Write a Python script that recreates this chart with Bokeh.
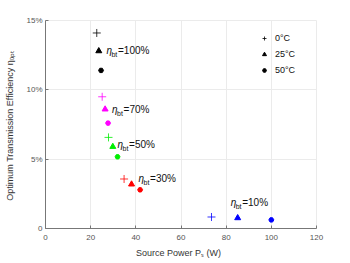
from bokeh.plotting import figure
from bokeh.models import ColumnDataSource, Legend, LegendItem, Range1d, FixedTicker
from bokeh.core.properties import value
from bokeh.embed import file_html
from bokeh.resources import INLINE

# ---- data ----
groups = ["100%", "70%", "50%", "30%", "10%"]
colors = ["#000000", "#ff00ff", "#00ee00", "#ff0000", "#0000ff"]
temps = ["0°C", "25°C", "50°C"]

power_0 = [22.7, 25.1, 27.9, 34.8, 73.5]
eff_0 = [14.1, 9.5, 6.57, 3.57, 0.83]
power_25 = [23.6, 26.4, 29.8, 38.1, 85.1]
eff_25 = [12.8, 8.6, 5.9, 3.19, 0.76]
power_50 = [24.6, 27.7, 31.9, 41.9, 100.0]
eff_50 = [11.4, 7.6, 5.17, 2.79, 0.62]

label_x = [27.0, 29.5, 31.9, 41.2, 82.0]
label_y = [12.85, 8.6, 6.07, 3.57, 1.86]

x_ticks = [0, 20, 40, 60, 80, 100, 120]
y_ticks = [0, 5, 10, 15]
y_tick_labels = ["0", "5%", "10%", "15%"]

FONT = "Liberation Sans"

p = figure(width=342, height=260, output_backend="svg", toolbar_location=None,
           x_range=Range1d(0, 120), y_range=Range1d(0, 15),
           min_border_left=45, min_border_right=26, min_border_top=20, min_border_bottom=27)

p.background_fill_color = "white"
p.border_fill_color = "white"
p.outline_line_color = "#ebebeb"

for ax in (p.xaxis[0], p.yaxis[0]):
    ax.axis_line_color = "#777777"
    ax.major_tick_line_color = "#777777"
    ax.major_tick_in = 3
    ax.major_tick_out = 0
    ax.minor_tick_line_color = None
    ax.major_label_text_font = FONT
    ax.major_label_text_font_size = "8px"
    ax.major_label_text_color = "#555555"
    ax.axis_label_text_font = FONT
    ax.axis_label_text_font_size = "9px"
    ax.axis_label_text_font_style = "normal"
    ax.axis_label_text_color = "#333333"

p.xaxis.ticker = FixedTicker(ticks=x_ticks)
p.yaxis.ticker = FixedTicker(ticks=y_ticks)
p.yaxis.major_label_overrides = {t: l for t, l in zip(y_ticks, y_tick_labels)}
p.xaxis.major_label_standoff = 6
p.yaxis.major_label_standoff = 3
p.xaxis.axis_label = "Source Power  Pₛ  (W)"
p.yaxis.axis_label = "Optimum Transmission Efficiency  ηₒₚₜ"
p.xaxis.axis_label_standoff = 5
p.yaxis.axis_label_standoff = 8

p.xgrid.grid_line_color = "#ebebeb"
p.ygrid.grid_line_color = "#ebebeb"

src0 = ColumnDataSource(dict(x=power_0, y=eff_0, c=colors))
src25 = ColumnDataSource(dict(x=power_25, y=eff_25, c=colors))
src50 = ColumnDataSource(dict(x=power_50, y=eff_50, c=colors))

r0 = p.scatter("x", "y", source=src0, marker="cross", size=8, line_color="c", line_width=0.8)
r25 = p.scatter("x", "y", source=src25, marker="triangle", size=6, fill_color="c", line_color="c")
r50 = p.scatter("x", "y", source=src50, marker="hex", size=5, fill_color="c", line_color="c")

lab = ColumnDataSource(dict(x=label_x, y=label_y, rest=["=" + g for g in groups]))
p.text("x", "y", text=value("η"), source=lab, text_font=value(FONT), text_font_size="10px",
       text_font_style="italic", text_baseline="middle", text_color="#111111")
p.text("x", "y", text=value("bt"), source=lab, text_font=value(FONT), text_font_size="7px",
       text_baseline="middle", x_offset=5, y_offset=4, text_color="#111111")
p.text("x", "y", text="rest", source=lab, text_font=value(FONT), text_font_size="10px",
       text_baseline="middle", x_offset=11.5, text_color="#111111")

legend = Legend(items=[LegendItem(label=temps[0], renderers=[r0]),
                       LegendItem(label=temps[1], renderers=[r25]),
                       LegendItem(label=temps[2], renderers=[r50])],
                location=(214, 150))
legend.border_line_color = None
legend.background_fill_alpha = 0
legend.padding = 0
legend.margin = 0
legend.spacing = 0
legend.glyph_width = 10
legend.glyph_height = 16
legend.label_height = 16
legend.label_standoff = 6
legend.label_text_font = FONT
legend.label_text_font_size = "9px"
legend.label_text_color = "#111111"
p.add_layout(legend, "center")

open("out.html", "w").write(file_html(p, INLINE))
